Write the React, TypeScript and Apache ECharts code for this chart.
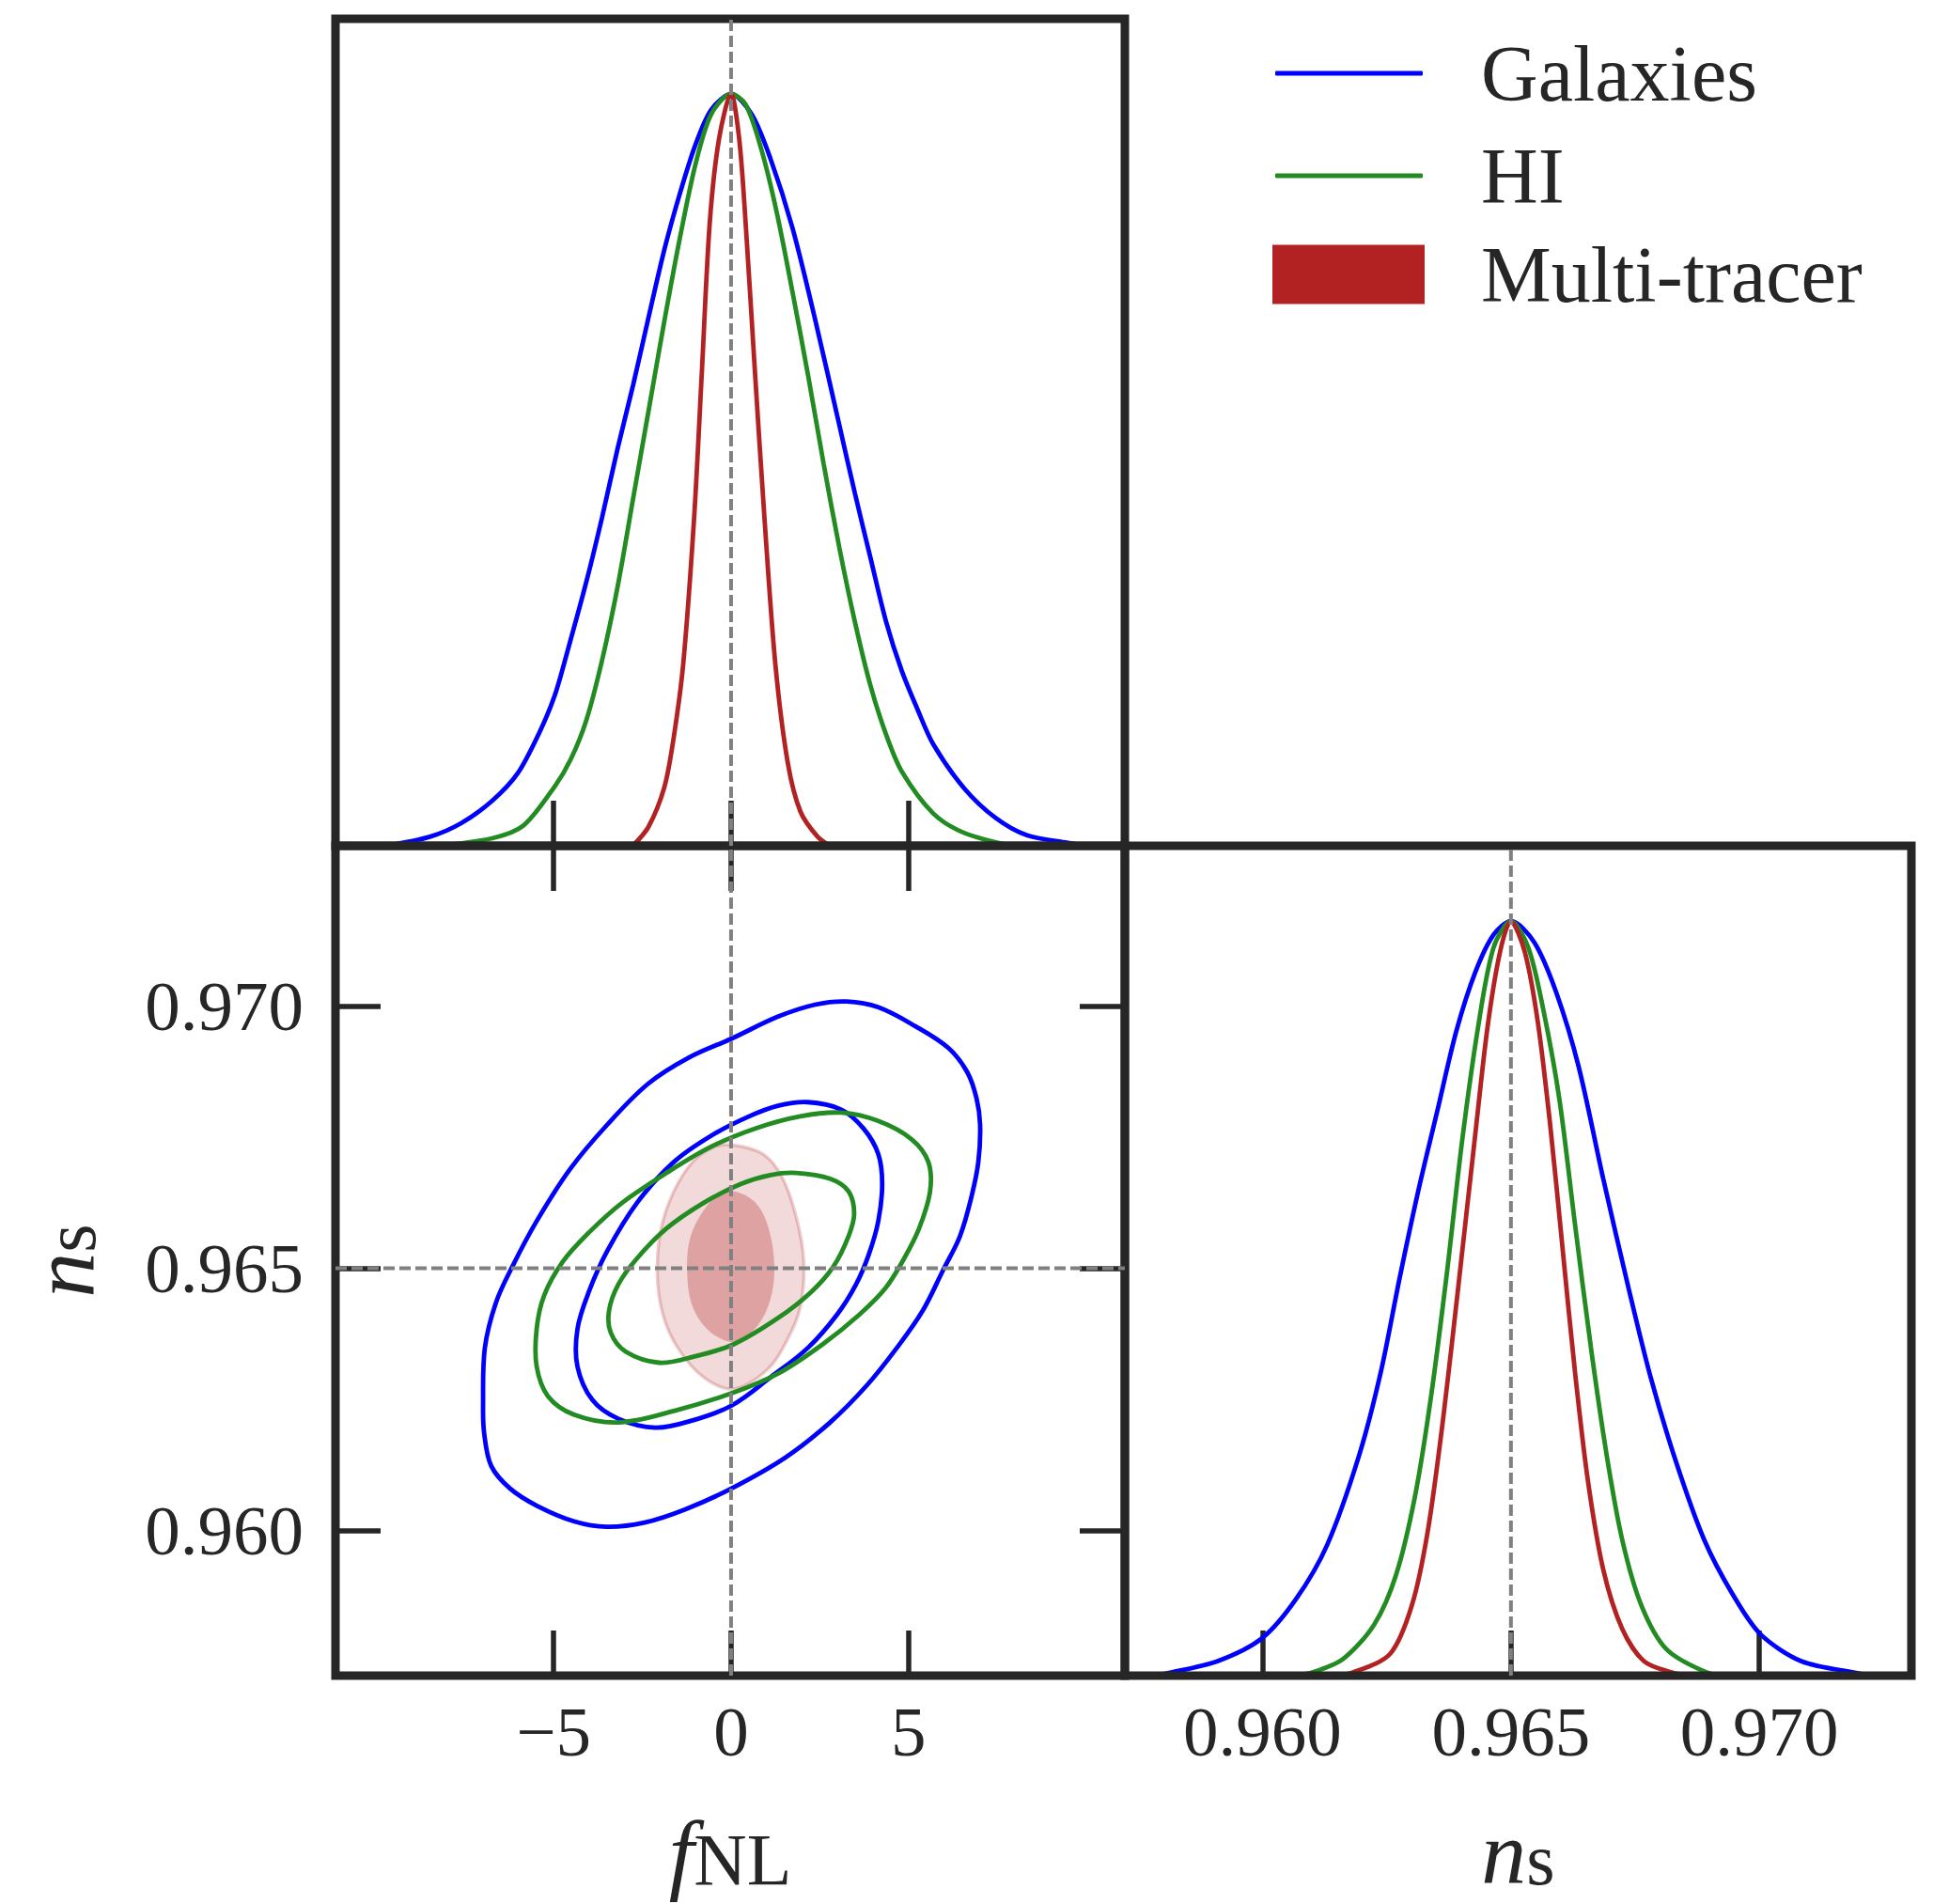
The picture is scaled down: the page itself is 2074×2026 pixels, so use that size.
import React, { useEffect, useRef } from 'react';
import * as echarts from 'echarts';

const BLUE = '#0000ff';
const GREEN = '#228b22';
const RED = '#b22222';
const INK = '#262626';
const FONT = '"Liberation Serif", "DejaVu Serif", serif';

// Tick labels / axis ranges
const fnlTicks = [-5, 0, 5];
const nsTicks = [0.96, 0.965, 0.97];
const fnlRange = [-11.15, 11.1];
const nsRange = [0.95723, 0.97306];
const pdfRange = [0, 1.1];
const fnlFiducial = 0;
const nsFiducial = 0.965;

// 1D marginal of f_NL: [fNL, P/Pmax]
const fnlGalaxies = [
  [-9.7, 0], [-8.49, 0.012], [-7.61, 0.03], [-6.73, 0.06], [-6.02, 0.096], [-5.4, 0.151],
  [-4.97, 0.2], [-4.61, 0.259], [-4.08, 0.351], [-3.64, 0.436], [-3.2, 0.528], [-2.76, 0.613],
  [-2.32, 0.704], [-1.88, 0.793], [-1.44, 0.868], [-1.0, 0.933], [-0.56, 0.979], [0, 1.0],
  [0.58, 0.973], [1.11, 0.914], [1.73, 0.822], [2.35, 0.704], [3.05, 0.56], [3.49, 0.469],
  [3.93, 0.383], [4.37, 0.298], [4.81, 0.233], [5.26, 0.181], [5.7, 0.135], [6.58, 0.076],
  [7.46, 0.037], [8.34, 0.014], [9.49, 0.004], [10.0, 0],
];
const fnlHI = [
  [-8.23, 0], [-6.73, 0.01], [-5.85, 0.027], [-4.97, 0.079], [-4.52, 0.115], [-4.08, 0.167],
  [-3.64, 0.246], [-3.2, 0.344], [-2.76, 0.462], [-2.32, 0.58], [-1.88, 0.698], [-1.44, 0.809],
  [-1.0, 0.907], [-0.56, 0.973], [0, 1.0], [0.41, 0.986], [0.85, 0.927], [1.29, 0.842],
  [1.73, 0.737], [2.17, 0.626], [2.61, 0.508], [3.05, 0.397], [3.49, 0.298], [3.93, 0.213],
  [4.37, 0.148], [4.81, 0.099], [5.7, 0.043], [6.58, 0.017], [7.9, 0],
];
const fnlMulti = [
  [-2.77, 0], [-2.33, 0.025], [-1.88, 0.078], [-1.62, 0.143], [-1.35, 0.241], [-1.04, 0.437],
  [-0.82, 0.633], [-0.6, 0.829], [-0.34, 0.94], [0, 1.0], [0.23, 0.94], [0.41, 0.829],
  [0.67, 0.633], [0.94, 0.437], [1.25, 0.241], [1.6, 0.11], [1.96, 0.045], [2.44, 0.012], [2.79, 0],
];

// 1D marginal of n_s: [ns, P/Pmax]
const nsGalaxies = [
  [0.9578, 0], [0.95814, 0.004], [0.95909, 0.019], [0.95998, 0.049], [0.96067, 0.101],
  [0.9613, 0.173], [0.96194, 0.291], [0.96238, 0.402], [0.96276, 0.527], [0.96314, 0.644],
  [0.96352, 0.749], [0.9639, 0.854], [0.96428, 0.932], [0.96465, 0.982], [0.965, 1.0],
  [0.96547, 0.972], [0.96591, 0.906], [0.96636, 0.808], [0.96686, 0.658], [0.96737, 0.513],
  [0.96781, 0.396], [0.96832, 0.284], [0.96889, 0.18], [0.96946, 0.108], [0.97002, 0.055],
  [0.97085, 0.019], [0.97192, 0.004], [0.9723, 0],
];
const nsHI = [
  [0.9606, 0], [0.96099, 0.004], [0.96162, 0.022], [0.96225, 0.068], [0.96269, 0.134],
  [0.96307, 0.238], [0.96339, 0.369], [0.96371, 0.533], [0.96402, 0.71], [0.96434, 0.86],
  [0.96465, 0.965], [0.965, 1.0], [0.96535, 0.965], [0.96566, 0.88], [0.96598, 0.762],
  [0.96629, 0.598], [0.96661, 0.435], [0.96693, 0.291], [0.96724, 0.18], [0.96762, 0.094],
  [0.96813, 0.035], [0.96895, 0.004], [0.9694, 0],
];
const nsMulti = [
  [0.9614, 0], [0.96181, 0.004], [0.96257, 0.029], [0.96301, 0.094], [0.96333, 0.193],
  [0.96364, 0.343], [0.96396, 0.527], [0.96428, 0.716], [0.96453, 0.86], [0.96478, 0.959],
  [0.965, 1.0], [0.96528, 0.959], [0.96554, 0.867], [0.96579, 0.73], [0.96604, 0.566],
  [0.96629, 0.402], [0.96655, 0.258], [0.96686, 0.14], [0.96724, 0.062], [0.96768, 0.019],
  [0.96825, 0.004], [0.9686, 0],
];

// 2D contours: [fNL, ns]
const galaxies95 = [
  [3.26, 0.97009], [4.15, 0.96998], [5.19, 0.96962], [6.13, 0.9692], [6.66, 0.96874],
  [6.92, 0.96824], [7.02, 0.96774], [6.97, 0.96703], [6.76, 0.96632], [6.45, 0.96561],
  [5.98, 0.96497], [5.4, 0.96419], [4.67, 0.96348], [3.83, 0.96277], [2.79, 0.96206],
  [1.53, 0.96139], [0.01, 0.9608], [-1.3, 0.9604], [-2.44, 0.96015], [-3.5, 0.96007],
  [-4.41, 0.96017], [-5.47, 0.96047], [-6.23, 0.9608], [-6.76, 0.96123], [-6.96, 0.96186],
  [-6.99, 0.9624], [-6.94, 0.96348], [-6.63, 0.96434], [-6.16, 0.96504], [-5.48, 0.9659],
  [-4.54, 0.96689], [-3.49, 0.96774], [-2.34, 0.96852], [-1.19, 0.96902], [0.01, 0.96938],
  [1.32, 0.9698], [2.37, 0.97003],
];
const galaxies68 = [
  [2.16, 0.96817], [3.1, 0.96803], [3.73, 0.96767], [4.15, 0.96718], [4.26, 0.96661],
  [4.15, 0.9659], [3.88, 0.96526], [3.52, 0.96469], [2.99, 0.96412], [2.16, 0.96348],
  [1.11, 0.96292], [0.01, 0.96238], [-1.08, 0.9621], [-2.13, 0.96196], [-3.18, 0.96213],
  [-3.91, 0.96249], [-4.33, 0.96313], [-4.33, 0.96384], [-4.01, 0.96455], [-3.49, 0.96533],
  [-2.65, 0.96625], [-1.61, 0.96703], [-0.56, 0.96753], [0.48, 0.96789], [1.32, 0.9681],
];
const hi95 = [
  [3.1, 0.96797], [4.15, 0.96781], [5.09, 0.96746], [5.56, 0.96703], [5.61, 0.96647],
  [5.3, 0.96576], [4.88, 0.96519], [4.35, 0.96462], [3.62, 0.96412], [2.58, 0.96355],
  [1.32, 0.96299], [0.07, 0.96263], [-1.61, 0.96228], [-3.18, 0.96206], [-4.43, 0.96221],
  [-5.16, 0.96256], [-5.48, 0.96313], [-5.48, 0.96384], [-5.27, 0.96448], [-4.75, 0.96512],
  [-4.01, 0.96568], [-3.07, 0.96625], [-1.82, 0.96682], [-0.56, 0.96732], [0.69, 0.96767],
  [1.95, 0.9679],
];
const hi68 = [
  [1.84, 0.96682], [2.79, 0.96671], [3.31, 0.96647], [3.47, 0.96604], [3.31, 0.96561],
  [2.89, 0.96504], [2.26, 0.96455], [1.32, 0.96405], [0.07, 0.96355], [-1.08, 0.96331],
  [-2.03, 0.9632], [-2.97, 0.96341], [-3.39, 0.96377], [-3.44, 0.96419], [-3.18, 0.96469],
  [-2.65, 0.96519], [-1.82, 0.96576], [-0.77, 0.96625], [0.28, 0.96661], [1.11, 0.96678],
];
const multi95 = [
  [0.07, 0.96735], [0.9, 0.96718], [1.43, 0.96675], [1.84, 0.96597], [2.05, 0.96512],
  [1.95, 0.96426], [1.58, 0.96363], [1.01, 0.96306], [0.07, 0.9627], [-0.77, 0.96292],
  [-1.5, 0.96348], [-1.92, 0.96412], [-2.08, 0.9649], [-1.97, 0.96576], [-1.61, 0.96647],
  [-1.08, 0.96703], [-0.46, 0.96732],
];
const multi68 = [
  [0.07, 0.96647], [0.69, 0.96625], [1.06, 0.96576], [1.22, 0.96504], [1.11, 0.96441],
  [0.75, 0.96391], [0.17, 0.96359], [-0.56, 0.96377], [-1.08, 0.96426], [-1.24, 0.96497],
  [-1.14, 0.96561], [-0.77, 0.96611], [-0.35, 0.9664],
];

const LW = 4.8;
const tickStyle = { show: true, inside: true, length: 48, lineStyle: { color: INK, width: 5.5 } };
const labelText = { fontFamily: FONT, fontSize: 75, color: INK };
const nameRich = {
  i: { fontFamily: FONT, fontStyle: 'italic', fontSize: 96, lineHeight: 92, color: INK, verticalAlign: 'middle' },
  s: { fontFamily: FONT, fontSize: 78, lineHeight: 26, color: INK, verticalAlign: 'bottom' },
};
const fmtFnl = (v: number) => (v < 0 ? '\u2212' + Math.abs(v) : String(v));
const fmtNs = (v: number) => v.toFixed(3);

function curve(name: string, data: number[][], color: string, xi: number, yi: number) {
  return {
    type: 'line', name, data, xAxisIndex: xi, yAxisIndex: yi, smooth: 0.3,
    showSymbol: false, symbol: 'none', silent: true, z: 2,
    lineStyle: { color, width: LW }, itemStyle: { color },
  };
}

function contour(name: string, pts: number[][], stroke: string | null, fill: string | null, lineWidth: number, z: number) {
  return {
    type: 'custom', name, xAxisIndex: 1, yAxisIndex: 1, z, silent: true,
    data: [[0, 0.965]],
    itemStyle: { color: stroke || fill },
    renderItem: (_p: any, api: any) => ({
      type: 'polygon',
      shape: { points: pts.map((p) => api.coord(p)), smooth: 0.35 },
      style: { fill: fill || 'none', stroke: stroke || 'none', lineWidth },
    }),
  };
}

function dashed(data: number[][], xi: number, yi: number) {
  return {
    type: 'line', data, xAxisIndex: xi, yAxisIndex: yi, showSymbol: false, symbol: 'none',
    silent: true, z: 6, lineStyle: { color: '#808080', width: 4, type: [12, 5] },
  };
}

const option: any = {
  animation: false,
  backgroundColor: '#ffffff',
  grid: [
    { left: 357, top: 20, width: 840, height: 880, show: true, borderColor: INK, borderWidth: 9, z: 4 },
    { left: 357, top: 900, width: 840, height: 883, show: true, borderColor: INK, borderWidth: 9, z: 4 },
    { left: 1197, top: 900, width: 837, height: 883, show: true, borderColor: INK, borderWidth: 9, z: 4 },
  ],
  xAxis: [
    {
      gridIndex: 0, type: 'value', min: fnlRange[0], max: fnlRange[1], position: 'bottom',
      axisLine: { show: false, onZero: false }, splitLine: { show: false },
      axisTick: { ...tickStyle, customValues: fnlTicks }, axisLabel: { show: false },
    },
    {
      gridIndex: 1, type: 'value', min: fnlRange[0], max: fnlRange[1], position: 'bottom',
      axisLine: { show: false, onZero: false }, splitLine: { show: false },
      axisTick: { ...tickStyle, customValues: fnlTicks },
      axisLabel: { ...labelText, margin: 22, customValues: fnlTicks, formatter: fmtFnl },
      name: '{i|f}{s|NL}', nameLocation: 'middle', nameGap: 142, nameTextStyle: { rich: nameRich },
    },
    {
      gridIndex: 1, type: 'value', min: fnlRange[0], max: fnlRange[1], position: 'top',
      axisLine: { show: false, onZero: false }, splitLine: { show: false },
      axisTick: { ...tickStyle, customValues: fnlTicks }, axisLabel: { show: false },
    },
    {
      gridIndex: 2, type: 'value', min: nsRange[0], max: nsRange[1], position: 'bottom',
      axisLine: { show: false, onZero: false }, splitLine: { show: false },
      axisTick: { ...tickStyle, customValues: nsTicks },
      axisLabel: { ...labelText, margin: 22, customValues: nsTicks, formatter: fmtNs },
      name: '{i|n}{s|s}', nameLocation: 'middle', nameGap: 142, nameTextStyle: { rich: nameRich },
    },
  ],
  yAxis: [
    { gridIndex: 0, type: 'value', min: pdfRange[0], max: pdfRange[1], show: false, axisLine: { onZero: false } },
    {
      gridIndex: 1, type: 'value', min: nsRange[0], max: nsRange[1], position: 'left',
      axisLine: { show: false, onZero: false }, splitLine: { show: false },
      axisTick: { ...tickStyle, customValues: nsTicks },
      axisLabel: { ...labelText, margin: 34, customValues: nsTicks, formatter: fmtNs },
      name: '{i|n}{s|s}', nameLocation: 'middle', nameRotate: 90, nameGap: 244, nameTextStyle: { rich: nameRich },
    },
    {
      gridIndex: 1, type: 'value', min: nsRange[0], max: nsRange[1], position: 'right',
      axisLine: { show: false, onZero: false }, splitLine: { show: false },
      axisTick: { ...tickStyle, customValues: nsTicks }, axisLabel: { show: false },
    },
    { gridIndex: 2, type: 'value', min: pdfRange[0], max: pdfRange[1], show: false, axisLine: { onZero: false } },
  ],
  legend: [
    {
      data: [
        { name: 'Galaxies', icon: 'roundRect', itemStyle: { color: BLUE } },
        { name: 'HI', icon: 'roundRect', itemStyle: { color: GREEN } },
      ],
      orient: 'vertical', left: 1357, top: 36, padding: 0, itemWidth: 157, itemHeight: 5, itemGap: 25,
      selectedMode: false,
      textStyle: { fontFamily: FONT, fontSize: 84, lineHeight: 82, color: INK, padding: [0, 0, 0, 57] },
    },
    {
      data: [{ name: 'Multi-tracer', icon: 'rect', itemStyle: { color: RED } }],
      orient: 'vertical', left: 1354, top: 250, padding: 0, itemWidth: 162, itemHeight: 63,
      selectedMode: false,
      textStyle: { fontFamily: FONT, fontSize: 84, lineHeight: 82, color: INK, padding: [0, 0, 0, 55] },
    },
  ],
  series: [
    curve('Galaxies', fnlGalaxies, BLUE, 0, 0),
    curve('HI', fnlHI, GREEN, 0, 0),
    curve('Multi-tracer', fnlMulti, RED, 0, 0),
    curve('Galaxies', nsGalaxies, BLUE, 3, 3),
    curve('HI', nsHI, GREEN, 3, 3),
    curve('Multi-tracer', nsMulti, RED, 3, 3),
    contour('Multi-tracer', multi95, 'rgba(178,34,34,0.22)', 'rgba(178,34,34,0.17)', 3.5, 1),
    contour('Multi-tracer', multi68, null, 'rgba(178,34,34,0.3)', 0, 1),
    contour('Galaxies', galaxies95, BLUE, null, LW, 2),
    contour('Galaxies', galaxies68, BLUE, null, LW, 2),
    contour('HI', hi95, GREEN, null, LW, 3),
    contour('HI', hi68, GREEN, null, LW, 3),
    dashed([[fnlFiducial, pdfRange[0]], [fnlFiducial, pdfRange[1]]], 0, 0),
    dashed([[fnlFiducial, nsRange[0]], [fnlFiducial, nsRange[1]]], 1, 1),
    dashed([[fnlRange[0], nsFiducial], [fnlRange[1], nsFiducial]], 1, 1),
    dashed([[nsFiducial, pdfRange[0]], [nsFiducial, pdfRange[1]]], 3, 3),
  ],
};

export default function App() {
  const ref = useRef<HTMLDivElement>(null);
  useEffect(() => {
    document.body.style.margin = '0';
    const chart = echarts.init(ref.current as HTMLDivElement, null, { renderer: 'svg' });
    chart.setOption(option);
    return () => chart.dispose();
  }, []);
  return <div ref={ref} style={{ width: 2074, height: 2026, background: '#ffffff' }} />;
}
